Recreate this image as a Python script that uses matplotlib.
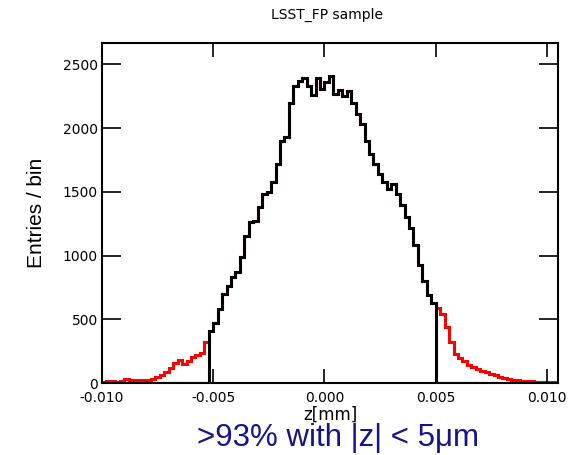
import numpy as np
import matplotlib
matplotlib.use("Agg")
import matplotlib.pyplot as plt

# histogram of z, bin width 0.0002 mm, starting at -0.0100
bin_lo = -0.0100
bin_w = 0.0002
counts = [
    10, 15, 15, 10, 20, 30, 25, 25, 25, 25,
    25, 35, 45, 60, 85, 120, 160, 185, 150, 175,
    205, 220, 235, 320,
    410, 470, 580, 700, 760, 830, 870, 990, 1150, 1260,
    1275, 1380, 1480, 1500, 1580, 1720, 1900, 1930, 2200, 2330,
    2370, 2390, 2330, 2260, 2390, 2310, 2360, 2410, 2270, 2300,
    2250, 2290, 2200, 2110, 2030, 1900, 1800, 1720, 1640, 1580,
    1520, 1560, 1480, 1400, 1300, 1220, 1080, 930, 800, 690,
    630,
    590, 540, 440, 320, 230, 200, 170, 145, 125, 110,
    95, 85, 70, 60, 50, 40, 30, 25, 22, 20,
    18, 15, 12, 12, 10, 10, 8, 8,
]
cut_first = 24   # first bin inside |z| cut
cut_last = 74    # last bin inside |z| cut

counts = np.array(counts, dtype=float)
edges = bin_lo + bin_w * np.arange(len(counts) + 1)
cut = np.zeros_like(counts)
cut[cut_first:cut_last + 1] = counts[cut_first:cut_last + 1]

xticks = [-0.010, -0.005, 0.000, 0.005, 0.010]
xticklabels = ["-0.010", "-0.005", "0.000", "0.005", "0.010"]
yticks = [0, 500, 1000, 1500, 2000, 2500]

plt.rcParams['font.family'] = ['Liberation Sans', 'DejaVu Sans']

fig = plt.figure(figsize=(5.73, 4.55), dpi=100)
ax = fig.add_axes([0.178, 0.158, 0.796, 0.747])

ax.stairs(counts, edges, color="#ff0000", lw=2.2)
ax.stairs(cut, edges, color="black", lw=2.2)

ax.set_xlim(-0.0100, 0.0105)
ax.set_ylim(0, 2665)
ax.set_xticks(xticks)
ax.set_xticklabels(xticklabels, family="DejaVu Sans")
ax.set_yticks(yticks)
ax.set_yticklabels([str(v) for v in yticks], family="DejaVu Sans")
ax.tick_params(direction="in", top=True, right=True, labelsize=10,
               width=1.2, pad=3)
ax.tick_params(axis="y", length=14)
ax.tick_params(axis="x", length=10, pad=6)
for s in ax.spines.values():
    s.set_linewidth(1.5)

ax.set_ylabel("Entries / bin", fontsize=15, labelpad=12)
ax.set_xlabel("z[mm]", fontsize=12, family="DejaVu Sans", labelpad=0)
fig.text(0.571, 0.967, "LSST_FP sample", fontsize=10, family="DejaVu Sans",
         ha="center", va="center")
fig.text(0.59, 0.037, ">93% with |z| < 5\u03bcm", fontsize=22.5, color="#14148c",
         ha="center", va="center")

fig.savefig("out.png", dpi=100)
